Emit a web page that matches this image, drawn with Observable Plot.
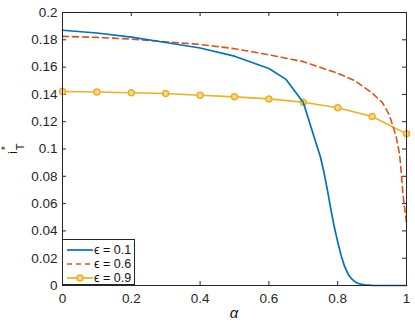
<!DOCTYPE html>
<html>
<head>
<meta charset="utf-8">
<script src="https://cdn.jsdelivr.net/npm/d3@7"></script>
<script src="https://cdn.jsdelivr.net/npm/@observablehq/plot@0.6"></script>
<style>
  html, body { margin: 0; padding: 0; background: #fff; }
  #wrap { position: relative; width: 415px; height: 322px; font-family: "Liberation Sans", Arial, sans-serif; }
  #legend { position: absolute; left: 62px; top: 239px; width: 73px; height: 46px; border: 1px solid #262626; background: #fff; box-sizing: border-box; font-size: 12.5px; color: #111; }
  .row { position: absolute; left: 3px; height: 14px; display: flex; align-items: center; }
  .row svg { display: block; }
  .row span { margin-left: 1px; white-space: nowrap; }
</style>
</head>
<body>
<div id="wrap"></div>
<script>
// ---- data ----
const alphaA = [0, 0.1, 0.2, 0.3, 0.4, 0.5, 0.6, 0.65, 0.7, 0.72, 0.74, 0.75, 0.76, 0.77, 0.78, 0.79, 0.8, 0.81, 0.82, 0.83, 0.84, 0.85, 0.86, 0.87, 0.88, 0.9, 0.95, 1.0];
const epsA   = [0.187, 0.185, 0.182, 0.178, 0.174, 0.168, 0.159, 0.151, 0.134, 0.118, 0.102, 0.094, 0.083, 0.070, 0.056, 0.043, 0.032, 0.022, 0.014, 0.0085, 0.005, 0.0028, 0.0015, 0.0008, 0.0004, 0.0001, 0, 0];
const alphaB = [0, 0.1, 0.2, 0.3, 0.4, 0.5, 0.6, 0.7, 0.8, 0.85, 0.9, 0.93, 0.95, 0.97, 0.98, 0.985, 0.99, 1.0];
const epsB   = [0.1825, 0.1818, 0.1805, 0.1785, 0.1766, 0.1735, 0.169, 0.164, 0.1555, 0.150, 0.141, 0.134, 0.125, 0.109, 0.096, 0.082, 0.066, 0.046];
const alphaC = [0, 0.1, 0.2, 0.3, 0.4, 0.5, 0.6, 0.7, 0.8, 0.9, 1.0];
const epsC   = [0.1421, 0.1418, 0.1412, 0.1407, 0.1394, 0.1382, 0.1367, 0.1343, 0.1302, 0.1238, 0.1111];
const xTicks = [0, 0.2, 0.4, 0.6, 0.8, 1];
const xTickLabels = ["0", "0.2", "0.4", "0.6", "0.8", "1"];
const yTicks = [0, 0.02, 0.04, 0.06, 0.08, 0.1, 0.12, 0.14, 0.16, 0.18, 0.2];
const yTickLabels = ["0", "0.02", "0.04", "0.06", "0.08", "0.1", "0.12", "0.14", "0.16", "0.18", "0.2"];
const seriesNames = ["ϵ = 0.1", "ϵ = 0.6", "ϵ = 0.9"];
const colors = ["#0072BD", "#D95319", "#EDB120"];

const dA = alphaA.map((a, i) => ({a, v: epsA[i]}));
const dB = alphaB.map((a, i) => ({a, v: epsB[i]}));
const dC = alphaC.map((a, i) => ({a, v: epsC[i]}));

const W = 415, H = 322, ML = 62, MR = 9, MT = 12, MB = 37;
const fw = W - ML - MR, fh = H - MT - MB, tl = 4;
const axisColor = "#262626";
const svg = Plot.plot({
  width: W,
  height: H,
  marginLeft: ML,
  marginRight: MR,
  marginTop: MT,
  marginBottom: MB,
  style: {fontFamily: "Liberation Sans, Arial, sans-serif", fontSize: "13.5px", color: axisColor, background: "#fff"},
  x: {domain: [0, 1]},
  y: {domain: [0, 0.2]},
  marks: [
    Plot.axisX(xTicks, {anchor: "bottom", tickSize: 0, tickPadding: 8, tickFormat: (d, i) => xTickLabels[i], label: null}),
    Plot.axisY(yTicks, {anchor: "left", tickSize: 0, tickPadding: 5, tickFormat: (d, i) => yTickLabels[i], label: null}),
    Plot.tickX(xTicks, {x: d => d, insetTop: fh - tl, stroke: axisColor}),
    Plot.tickX(xTicks, {x: d => d, insetBottom: fh - tl, stroke: axisColor}),
    Plot.tickY(yTicks, {y: d => d, insetRight: fw - tl, stroke: axisColor}),
    Plot.tickY(yTicks, {y: d => d, insetLeft: fw - tl, stroke: axisColor}),
    Plot.line(dC, {x: "a", y: "v", stroke: colors[2], strokeWidth: 1.6}),
    Plot.dot(dC, {x: "a", y: "v", stroke: colors[2], fill: "#f5d990", r: 3, strokeWidth: 1.5}),
    Plot.line(dB, {x: "a", y: "v", stroke: colors[1], strokeWidth: 1.6, strokeDasharray: "6,4"}),
    Plot.line(dA, {x: "a", y: "v", stroke: colors[0], strokeWidth: 1.7}),
    Plot.frame({stroke: axisColor, strokeWidth: 1})
  ]
});

// axis labels (real text)
const ns = "http://www.w3.org/2000/svg";
const yl = document.createElementNS(ns, "text");
yl.setAttribute("transform", "rotate(-90)");
yl.setAttribute("text-anchor", "middle");
yl.setAttribute("fill", "#111");
function part(txt, size, sx, sy) {
  const t = document.createElementNS(ns, "tspan");
  t.textContent = txt;
  t.setAttribute("font-size", size);
  t.setAttribute("x", -sy);
  t.setAttribute("y", sx);
  yl.appendChild(t);
}
part("i", 13.5, 17, 152.5);
part("*", 10, 9, 148);
part("T", 11, 24, 147);
svg.appendChild(yl);

const xl = document.createElementNS(ns, "text");
xl.setAttribute("x", "234");
xl.setAttribute("y", "318");
xl.setAttribute("text-anchor", "middle");
xl.setAttribute("font-size", "15");
xl.setAttribute("font-style", "italic");
xl.setAttribute("fill", "#111");
xl.textContent = "α";
svg.appendChild(xl);

const wrap = document.getElementById("wrap");
wrap.appendChild(svg);

// legend
const legend = document.createElement("div");
legend.id = "legend";
const dashes = [null, "5,4", null];
seriesNames.forEach((name, i) => {
  const row = document.createElement("div");
  row.className = "row";
  row.style.top = (3 + i * 14) + "px";
  let inner = `<svg width="27" height="14"><line x1="1" x2="27" y1="7" y2="7" stroke="${colors[i]}" stroke-width="1.7"${dashes[i] ? ` stroke-dasharray="${dashes[i]}"` : ""}/>`;
  if (i === 2) inner += `<circle cx="14" cy="7" r="3" stroke="${colors[i]}" stroke-width="1.5" fill="#f5d990"/>`;
  inner += `</svg><span>${name}</span>`;
  row.innerHTML = inner;
  legend.appendChild(row);
});
wrap.appendChild(legend);
</script>
</body>
</html>
